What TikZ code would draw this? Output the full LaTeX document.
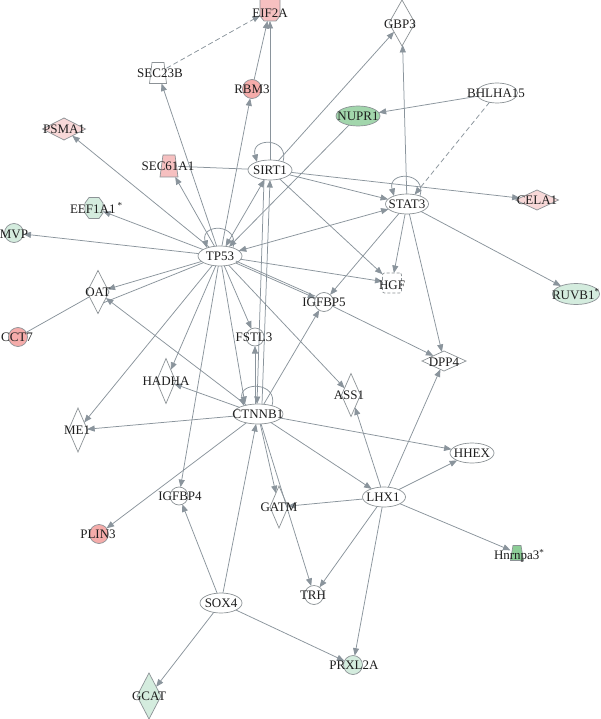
\documentclass[tikz,border=0pt]{standalone}
\usepackage{fontspec}
\setmainfont{Liberation Serif}
\usetikzlibrary{arrows.meta,shapes.geometric,calc}
\definecolor{lcol}{RGB}{138,148,156}
\definecolor{ncol}{RGB}{140,146,150}
\definecolor{txtc}{RGB}{30,30,30}
\definecolor{pinkD}{RGB}{245,172,170}
\definecolor{pinkM}{RGB}{246,192,192}
\definecolor{pinkL}{RGB}{248,216,216}
\definecolor{greenD}{RGB}{162,214,172}
\definecolor{greenH}{RGB}{140,205,150}
\definecolor{greenL}{RGB}{212,236,222}
\tikzset{
  every node/.style={inner sep=0pt, outer sep=0pt},
  shp/.style={draw=ncol, line width=0.7pt, fill=white},
  ell/.style={shp, ellipse, minimum width=#1, minimum height=20pt},
  circ/.style={shp, circle, minimum size=19pt},
  dmd/.style 2 args={shp, diamond, minimum width=#1, minimum height=#2},
  box/.style 2 args={rectangle, minimum width=#1, minimum height=#2},
  poly/.style={draw=ncol, line width=0.7pt},
  hgfbox/.style={draw=ncol, line width=0.7pt, dashed, dash pattern=on 3pt off 2pt, rounded corners=2pt, fill=white, minimum width=19pt, minimum height=20pt},
  lbl/.style={font=\fontsize{13}{15}\selectfont, text=txtc},
  arr/.style={draw=lcol, line width=0.75pt, ->},
  arrb/.style={draw=lcol, line width=0.75pt, <->},
  ln/.style={draw=lcol, line width=0.75pt},
  dsh/.style={dashed, dash pattern=on 5pt off 3pt},
}
% trapezoid drawn round a named node: name, fill, half bottom, half top, half height
\newcommand\mytrap[5]{%
  \filldraw[poly, fill=#2]
    ($(#1)+(-#3,#5)$) -- ($(#1)+(#3,#5)$) -- ($(#1)+(#4,-#5)$) -- ($(#1)+(-#4,-#5)$) -- cycle;}
\begin{document}
\begin{tikzpicture}[x=1pt,y=-1pt,>={Triangle[length=7.5pt,width=6pt]}]
\path[use as bounding box, fill=white] (0,0) rectangle (600,719);
% ---- shapes
\node[box={20pt}{22pt}] (eif) at (270,10) {};
\filldraw[poly, fill=pinkM] ($(eif)+(-10,-11)$) -- ($(eif)+(10,-11)$) -- ($(eif)+(10,6)$) -- ($(eif)+(6,11)$) -- ($(eif)+(-6,11)$) -- ($(eif)+(-10,6)$) -- cycle;
\node[dmd={26pt}{46pt}] (gbp) at (402,23) {};
\node[box={17pt}{21pt}] (s23) at (158,73) {};
\mytrap{s23}{white}{8.5}{6}{10.5}
\node[circ, fill=pinkD] (rbm) at (252,89) {};
\node[ell=41pt] (bhl) at (497,93) {};
\node[ell=44pt, fill=greenD] (nup) at (358,116) {};
\node[dmd={43pt}{22pt}, fill=pinkL] (psm) at (64,129) {};
\node[box={18pt}{22pt}] (s61) at (169,166) {};
\mytrap{s61}{pinkM}{9}{6}{11}
\node[ell=44pt] (sir) at (270,170) {};
\node[ell=43pt] (sta) at (407,204) {};
\node[dmd={43pt}{20pt}, fill=pinkL] (cel) at (537,200) {};
\node[box={18pt}{21pt}] (eef) at (94,208) {};
\filldraw[poly, fill=greenL] ($(eef)+(-5,-10.5)$) -- ($(eef)+(5,-10.5)$) -- ($(eef)+(9,-5)$) -- ($(eef)+(9,5)$) -- ($(eef)+(5,10.5)$) -- ($(eef)+(-5,10.5)$) -- ($(eef)+(-9,5)$) -- ($(eef)+(-9,-5)$) -- cycle;
\node[circ, fill=greenL] (mvp) at (14,233) {};
\node[ell=44pt] (tp) at (220,256) {};
\node[hgfbox] (hgf) at (392,283) {};
\node[ell=47pt, fill=greenL, minimum height=21pt] (ruv) at (576,294) {};
\node[circ] (ig5) at (324,302) {};
\node[dmd={22pt}{43pt}] (oat) at (98,292) {};
\node[circ, fill=pinkD] (cct) at (18,337) {};
\node[circ, minimum size=18pt] (fst) at (255,337) {};
\node[dmd={44pt}{20pt}] (dpp) at (444,361) {};
\node[dmd={19pt}{45pt}] (had) at (166,381) {};
\node[ell=50pt] (ctn) at (258,414) {};
\node[dmd={19pt}{43pt}] (ass) at (351,395) {};
\node[dmd={19pt}{44pt}] (me1) at (78,430) {};
\node[ell=44pt] (hhe) at (472,453) {};
\node[circ, minimum size=18pt] (ig4) at (179,496) {};
\node[dmd={18pt}{42pt}] (gat) at (279,507) {};
\node[ell=43pt] (lhx) at (384,497) {};
\node[circ, fill=pinkD] (pli) at (99,534) {};
\node[box={13pt}{15pt}] (hnr) at (517,553) {};
\mytrap{hnr}{greenH}{6.5}{4}{7.5}
\node[ell=42pt] (sox) at (221,603) {};
\node[circ] (trh) at (314,595) {};
\node[circ, fill=greenL] (prx) at (353,665) {};
\node[dmd={24pt}{46pt}, fill=greenL] (gca) at (149,696) {};
% ---- self loops
\foreach \n/\w in {tp/13,sir/13,sta/13,ctn/14}{
  \draw[arr] ($(\n.north)+(\w,2)$) .. controls +(7,-25) and +(-7,-25) .. ($(\n.north)+(-\w,2)$);
}
% ---- edges
\draw[arr] (tp) -- (s23);
\draw[arr] (tp) -- (psm);
\draw[arr] (tp) -- (s61);
\draw[arr] (tp) -- (rbm);
\draw[arr] (rbm) -- (eif);
\draw[arr] (sir) -- (eif);
\draw[arr, dsh] (s23) -- (eif);
\draw[arrb] (tp) -- (sir);
\draw[ln] (sir) -- (s61);
\draw[arr] (sir) -- (gbp);
\draw[arr] (sta) -- (gbp);
\draw[arr] (bhl) -- (nup);
\draw[arr, dsh] (bhl) -- (sta);
\draw[arr] (nup) -- (tp);
\draw[arr] (sir) -- (sta);
\draw[arr] (sir) -- (cel);
\draw[arr] (sir) -- (hgf);
\draw[arrb] (tp) -- (sta);
\draw[arr] (tp) -- (hgf);
\draw[arr] (tp) -- (ig5);
\draw[ln, transform canvas={yshift=2pt}] (tp) -- (ig5);
\draw[arr] (sta) -- (ig5);
\draw[arr] (sta) -- (hgf);
\draw[arr] (sta) -- (dpp);
\draw[arr] (sta) -- (ruv);
\draw[arr] (ig5) -- (dpp);
\draw[arr] (tp) -- (eef);
\draw[arr] (tp) -- (mvp);
\draw[arr] (tp) -- (oat);
\draw[ln] (tp) -- (oat.south east);
\draw[ln] (cct) -- (oat);
\draw[arr] (tp) -- (me1);
\draw[arr] (tp) -- (had);
\draw[arr] (tp) -- (fst);
\draw[arr] (tp) -- ([xshift=-13pt]ctn.north);
\draw[arr] (tp) -- (ig4);
\draw[arr] (tp) -- (ass);
\draw[arr] (ctn) -- (oat);
\draw[arr] (ctn) -- (had);
\draw[arr] (ctn) -- (me1);
\draw[arr] ([xshift=-3pt]ctn.north) -- (fst);
\draw[arr] ([xshift=4pt]ctn.north) -- (sir.south);
\draw[arr] ([xshift=-6pt]sir.south) -- ([xshift=-1pt]ctn.north);
\draw[arr] (ctn) -- (ig5);
\draw[arr] (ctn) -- (hhe);
\draw[arr] (ctn) -- (lhx);
\draw[arr] (ctn) -- (pli);
\draw[arr] (ctn) -- (gat);
\draw[arr] (ctn) -- (trh);
\draw[arr] (sox) -- (ctn);
\draw[arr] (sox) -- (ig4);
\draw[arr] (sox) -- (gca);
\draw[arr] (sox) -- (prx);
\draw[arr] (lhx) -- (gat);
\draw[arr] (lhx) -- (trh);
\draw[arr] (lhx) -- (prx);
\draw[arr] (lhx) -- (hnr);
\draw[arr] (lhx) -- (hhe);
\draw[arr] (lhx) -- (ass);
\draw[arr] (lhx) -- (dpp);
% ---- labels
\node[lbl] at (270,13) {EIF2A};
\node[lbl] at (400,24) {GBP3};
\node[lbl] at (160,73) {SEC23B};
\node[lbl] at (252,89) {RBM3};
\node[lbl] at (496,93) {BHLHA15};
\node[lbl] at (358,116) {NUPR1};
\node[lbl] at (64,129) {PSMA1};
\node[lbl] at (168,166) {SEC61A1};
\node[lbl] at (270,170) {SIRT1};
\node[lbl] at (407,204) {STAT3};
\node[lbl] at (537,200) {CELA1};
\node[lbl, anchor=west] at (70,208) {EEF1A1\,\textsuperscript{*}};
\node[lbl] at (14,234) {MVP};
\node[lbl] at (220,256) {TP53};
\node[lbl] at (392,285) {HGF};
\node[lbl, anchor=west] at (552,294) {RUVB1\textsuperscript{*}};
\node[lbl] at (324,302) {IGFBP5};
\node[lbl] at (98,292) {OAT};
\node[lbl] at (17,337) {CCT7};
\node[lbl] at (254,337) {FSTL3};
\node[lbl] at (444,362) {DPP4};
\node[lbl] at (166,381) {HADHA};
\node[lbl] at (258,414) {CTNNB1};
\node[lbl] at (349,395) {ASS1};
\node[lbl] at (77,430) {ME1};
\node[lbl] at (472,453) {HHEX};
\node[lbl] at (180,496) {IGFBP4};
\node[lbl] at (279,507) {GATM};
\node[lbl] at (383,497) {LHX1};
\node[lbl] at (98,534) {PLIN3};
\node[lbl, anchor=west] at (494,556) {Hnrnpa3\textsuperscript{*}};
\node[lbl] at (221,603) {SOX4};
\node[lbl] at (313,595) {TRH};
\node[lbl] at (354,665) {PRXL2A};
\node[lbl] at (149,696) {GCAT};
\end{tikzpicture}
\end{document}
